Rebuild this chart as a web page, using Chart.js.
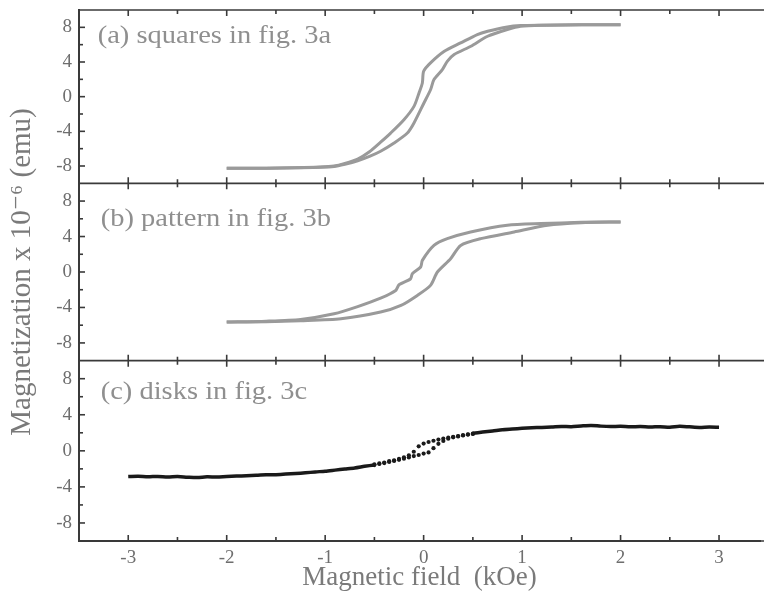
<!DOCTYPE html>
<html><head><meta charset="utf-8">
<script src="https://cdn.jsdelivr.net/npm/chart.js@4"></script>
<style>html,body{margin:0;padding:0;background:#fff}#wrap{width:764px;height:601px;position:relative}</style>
</head><body><div id="wrap"><canvas id="c" width="764" height="601"></canvas></div>
<script>
// ---- tick values / labels ----
const xTicks = [-3, -2.5, -2, -1.5, -1, -0.5, 0, 0.5, 1, 1.5, 2, 2.5, 3];
const yTicks = [-8, -6, -4, -2, 0, 2, 4, 6, 8];
const yLabeled = [-8, -4, 0, 4, 8];
const panelLabels = ['(a) squares in fig. 3a', '(b) pattern in fig. 3b', '(c) disks in fig. 3c'];
const xTitle = 'Magnetic field  (kOe)';
const yTitle = 'Magnetization x 10\u207B\u2076 (emu)';

// ---- panel (a): squares ----
const aDownH = [2.0, 1.6, 1.2, 0.985, 0.85, 0.65, 0.545, 0.376, 0.21, 0.07, 0.0, -0.013, -0.047, -0.098, -0.2, -0.335, -0.437, -0.55, -0.67, -0.8, -0.91, -1.05, -1.3, -1.6, -2.0];
const aDownM = [8.3, 8.3, 8.25, 8.2, 8.05, 7.55, 7.17, 6.2, 5.24, 3.9, 2.93, 1.58, 0.43, -1.12, -2.66, -4.2, -5.25, -6.35, -7.2, -7.7, -8.0, -8.12, -8.2, -8.25, -8.25];
const aUpH = [-2.0, -1.6, -1.3, -1.05, -0.91, -0.8, -0.67, -0.55, -0.437, -0.3, -0.165, -0.098, 0.003, 0.07, 0.105, 0.19, 0.24, 0.31, 0.48, 0.65, 0.85, 0.985, 1.2, 1.6, 2.0];
const aUpM = [-8.25, -8.25, -8.2, -8.15, -8.06, -7.8, -7.4, -6.9, -6.3, -5.35, -4.2, -3.04, -0.73, 0.8, 1.97, 3.12, 4.08, 4.86, 5.82, 6.97, 7.75, 8.13, 8.25, 8.3, 8.3];

// ---- panel (b): pattern ----
const bDownH = [2.0, 1.6, 1.19, 0.85, 0.477, 0.24, 0.105, -0.013, -0.03, -0.115, -0.132, -0.25, -0.284, -0.437, -0.67, -0.91, -1.25, -1.6, -2.0];
const bDownM = [5.65, 5.6, 5.46, 5.27, 4.52, 3.76, 3.0, 1.31, 0.56, -0.19, -0.76, -1.44, -2.08, -2.95, -3.9, -4.71, -5.35, -5.55, -5.65];
const bUpH = [-2.0, -1.6, -1.25, -0.84, -0.437, -0.23, -0.064, 0.07, 0.14, 0.274, 0.376, 0.58, 0.92, 1.26, 1.6, 2.0];
const bUpM = [-5.65, -5.6, -5.5, -5.28, -4.52, -3.77, -2.64, -1.51, 0.0, 1.5, 3.0, 3.76, 4.52, 5.27, 5.55, 5.65];

// ---- panel (c): disks ----
const cLeftH = [-3.0, -2.9, -2.8, -2.7, -2.6, -2.5, -2.4, -2.3, -2.2, -2.1, -2.0, -1.9, -1.8, -1.7, -1.6, -1.5, -1.4, -1.3, -1.2, -1.1, -1.0, -0.9, -0.8, -0.7, -0.6, -0.5];
const cLeftM = [-2.86, -2.82, -2.88, -2.84, -2.9, -2.86, -2.92, -2.96, -2.88, -2.9, -2.84, -2.8, -2.76, -2.72, -2.66, -2.64, -2.58, -2.52, -2.44, -2.34, -2.26, -2.14, -2.02, -1.9, -1.72, -1.56];
const cMidH = [-0.5, -0.45, -0.4, -0.35, -0.3, -0.25, -0.2, -0.15, -0.1, -0.05, 0.0, 0.05, 0.1, 0.15, 0.2, 0.25, 0.3, 0.35, 0.4, 0.45, 0.5];
const cDownM = [-1.5, -1.4, -1.3, -1.15, -1.05, -0.9, -0.72, -0.5, -0.1, 0.5, 0.8, 0.98, 1.12, 1.25, 1.36, 1.46, 1.56, 1.64, 1.74, 1.82, 1.9];
const cUpM = [-1.58, -1.46, -1.36, -1.24, -1.12, -1.0, -0.88, -0.74, -0.58, -0.46, -0.3, -0.18, 0.3, 0.78, 1.1, 1.34, 1.5, 1.6, 1.7, 1.8, 1.88];
const cRightH = [0.5, 0.6, 0.7, 0.8, 0.9, 1.0, 1.1, 1.2, 1.3, 1.4, 1.5, 1.6, 1.7, 1.8, 1.9, 2.0, 2.1, 2.2, 2.3, 2.4, 2.5, 2.6, 2.7, 2.8, 2.9, 3.0];
const cRightM = [1.94, 2.08, 2.2, 2.34, 2.42, 2.5, 2.56, 2.6, 2.64, 2.7, 2.68, 2.76, 2.82, 2.74, 2.7, 2.72, 2.66, 2.7, 2.64, 2.68, 2.62, 2.72, 2.66, 2.6, 2.64, 2.62];

const pts = (hs, ms) => hs.map((h, i) => ({x: h, y: ms[i]}));

const GRAY = '#9a9a9a';
const lineDs = (data, axis, color, w) => ({data, yAxisID: axis, showLine: true, borderColor: color, backgroundColor: color, borderWidth: w, pointRadius: 0, tension: 0.25, fill: false});
const dotDs = (data, axis) => ({data, yAxisID: axis, showLine: false, pointRadius: 2.1, pointBorderWidth: 0, backgroundColor: '#1a1a1a', borderColor: '#1a1a1a'});

const SERIF = '"Liberation Serif", "DejaVu Serif", serif';
const FRAME = '#3a3a3a';

const labelPos = [{x: -3.31, y: 7.0, axis: 'ya'}, {x: -3.28, y: 5.9, axis: 'yb'}, {x: -3.28, y: 6.5, axis: 'yc'}];

const framePlugin = {
  id: 'frame',
  afterDatasetsDraw(chart) {
    const ctx = chart.ctx, xs = chart.scales.x, ca = chart.chartArea;
    ctx.save();
    ctx.strokeStyle = FRAME;
    ctx.lineWidth = 1.6;
    ['ya', 'yb', 'yc'].forEach((id, k) => {
      const s = chart.scales[id];
      ctx.beginPath();
      ctx.moveTo(ca.left, s.top); ctx.lineTo(chart.width, s.top);
      ctx.stroke();
      xTicks.forEach(v => {
        const px = xs.getPixelForValue(v);
        const len = Number.isInteger(v) ? 6 : 4;
        ctx.beginPath();
        ctx.moveTo(px, s.top); ctx.lineTo(px, s.top + len);
        ctx.moveTo(px, s.bottom); ctx.lineTo(px, s.bottom - len);
        ctx.stroke();
      });
      yTicks.forEach(v => {
        const py = s.getPixelForValue(v);
        const len = yLabeled.includes(v) ? 6 : 4;
        ctx.beginPath();
        ctx.moveTo(ca.left, py); ctx.lineTo(ca.left + len, py);
        ctx.stroke();
      });
      const lp = labelPos[k];
      ctx.save();
      ctx.fillStyle = '#8f8f8f';
      ctx.font = '25px ' + SERIF;
      ctx.textAlign = 'left';
      ctx.textBaseline = 'middle';
      const tx = xs.getPixelForValue(lp.x), ty = chart.scales[lp.axis].getPixelForValue(lp.y);
      ctx.translate(tx, ty);
      ctx.scale(1.14, 1);
      ctx.fillText(panelLabels[k], 0, 0);
      ctx.restore();
    });
    ctx.beginPath();
    ctx.moveTo(ca.left, ca.bottom); ctx.lineTo(chart.width, ca.bottom);
    ctx.stroke();
    ctx.restore();
  }
};

const yAxis = (weight, title) => ({
  type: 'linear', position: 'left', stack: 'panels', stackWeight: weight,
  min: -10, max: 10,
  afterBuildTicks: s => { s.ticks = yTicks.map(v => ({value: v})); },
  afterFit: s => { s.width = 79; s.paddingTop = 0; s.paddingBottom = 0; },
  ticks: {
    callback: v => yLabeled.includes(v) ? String(v) : '',
    color: '#6e6e6e', font: {family: SERIF, size: 19}, padding: 7, autoSkip: false
  },
  grid: {display: false, drawTicks: false},
  border: {display: true, color: FRAME, width: 2},
  title: title ? {display: true, text: title, color: '#7a7a7a', font: {family: SERIF, size: 29, lineHeight: 1}, padding: {top: 8, bottom: 0}} : {display: false}
});

new Chart(document.getElementById('c'), {
  type: 'scatter',
  data: {
    datasets: [
      lineDs(pts(aDownH, aDownM), 'ya', GRAY, 3),
      lineDs(pts(aUpH, aUpM), 'ya', GRAY, 3),
      lineDs(pts(bDownH, bDownM), 'yb', GRAY, 3),
      lineDs(pts(bUpH, bUpM), 'yb', GRAY, 3),
      lineDs(pts(cLeftH, cLeftM), 'yc', '#1a1a1a', 3.5),
      lineDs(pts(cRightH, cRightM), 'yc', '#1a1a1a', 3.5),
      dotDs(pts(cMidH, cDownM), 'yc'),
      dotDs(pts(cMidH, cUpM), 'yc')
    ]
  },
  options: {
    responsive: false, animation: false,
    layout: {padding: {top: 10, right: 0, left: 0, bottom: 0}},
    plugins: {legend: {display: false}, tooltip: {enabled: false}},
    scales: {
      x: {
        type: 'linear', position: 'bottom', min: -3.5, max: 3.416,
        afterBuildTicks: s => { s.ticks = xTicks.map(v => ({value: v})); },
        afterFit: s => { s.height = 60; s.paddingLeft = 0; s.paddingRight = 0; },
        ticks: {
          callback: v => Number.isInteger(v) ? String(v) : '',
          color: '#6e6e6e', font: {family: SERIF, size: 19}, padding: 6, autoSkip: false, maxRotation: 0
        },
        grid: {display: false, drawTicks: false},
        border: {display: true, color: FRAME, width: 2},
        title: {display: true, text: xTitle, color: '#7a7a7a', font: {family: SERIF, size: 27, lineHeight: 1}, padding: {top: 0, bottom: 10}}
      },
      yc: yAxis(180, null),
      yb: yAxis(177, yTitle),
      ya: yAxis(173, null)
    }
  },
  plugins: [framePlugin]
});
</script></body></html>
